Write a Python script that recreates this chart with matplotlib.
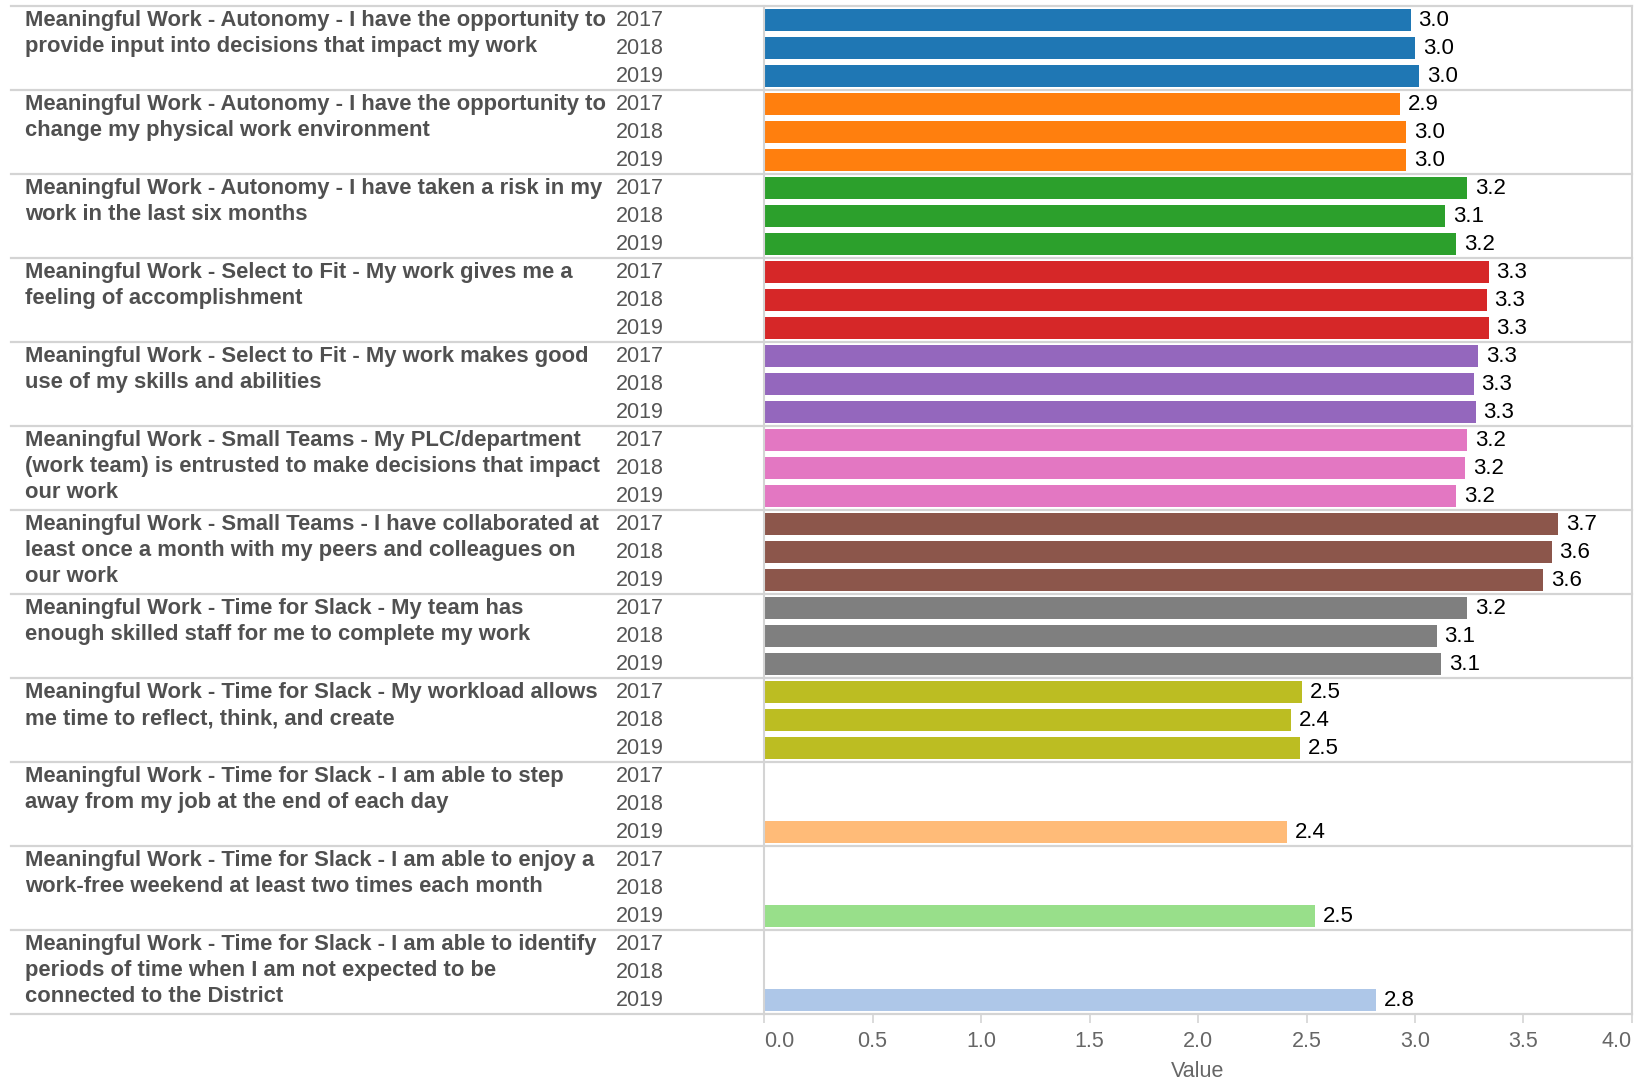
import numpy as np
import matplotlib.pyplot as plt
from matplotlib.transforms import blended_transform_factory
from matplotlib.lines import Line2D
from matplotlib.textpath import TextPath
from matplotlib.font_manager import FontProperties

questions = [
    "Meaningful Work - Autonomy - I have the opportunity to\nprovide input into decisions that impact my work",
    "Meaningful Work - Autonomy - I have the opportunity to\nchange my physical work environment",
    "Meaningful Work - Autonomy - I have taken a risk in my\nwork in the last six months",
    "Meaningful Work - Select to Fit - My work gives me a\nfeeling of accomplishment",
    "Meaningful Work - Select to Fit - My work makes good\nuse of my skills and abilities",
    "Meaningful Work - Small Teams - My PLC/department\n(work team) is entrusted to make decisions that impact\nour work",
    "Meaningful Work - Small Teams - I have collaborated at\nleast once a month with my peers and colleagues on\nour work",
    "Meaningful Work - Time for Slack - My team has\nenough skilled staff for me to complete my work",
    "Meaningful Work - Time for Slack - My workload allows\nme time to reflect, think, and create",
    "Meaningful Work - Time for Slack - I am able to step\naway from my job at the end of each day",
    "Meaningful Work - Time for Slack - I am able to enjoy a\nwork-free weekend at least two times each month",
    "Meaningful Work - Time for Slack - I am able to identify\nperiods of time when I am not expected to be\nconnected to the District",
]
years = ["2017", "2018", "2019"]
nan = np.nan
scores_2017 = [2.98, 2.93, 3.24, 3.34, 3.29, 3.24, 3.66, 3.24, 2.48, nan, nan, nan]
scores_2018 = [3.00, 2.96, 3.14, 3.33, 3.27, 3.23, 3.63, 3.10, 2.43, nan, nan, nan]
scores_2019 = [3.02, 2.96, 3.19, 3.34, 3.28, 3.19, 3.59, 3.12, 2.47, 2.41, 2.54, 2.82]
colors = ["#1f77b4", "#ff7f0e", "#2ca02c", "#d62728", "#9467bd", "#e377c2",
          "#8c564b", "#7f7f7f", "#bcbd22", "#ffbb78", "#98df8a", "#aec7e8"]
xticks = [0.0, 0.5, 1.0, 1.5, 2.0, 2.5, 3.0, 3.5, 4.0]

FONT = 'Liberation Sans'
W, H = 1641, 1081
PX = 1 / 28.0  # one pixel in row units (each bar row is 28 px tall)

# size the bold label font so the first line is as wide as in the reference (~578 px)
bold_fp = FontProperties(family=FONT, weight='bold')
w1 = TextPath((0, 0), questions[0].split('\n')[0], size=10, prop=bold_fp).get_extents().width
q_size = 10 * 578 * 0.72 / w1

fig = plt.figure(figsize=(W / 100, H / 100), dpi=100)
ax = fig.add_axes([764 / W, (H - 1014) / H, (1632 - 764) / W, (1014 - 6) / H])

scores = [scores_2017, scores_2018, scores_2019]
for i in range(len(questions)):
    for j in range(3):
        v = scores[j][i]
        y = 3 * i + j
        if np.isnan(v):
            continue
        ax.barh(y, v, height=0.79, color=colors[i])
        # valeur affichée à droite de la barre
        ax.text(v + 0.036, y + 6 * PX, f"{v:.1f}", va='baseline', ha='left',
                fontsize=16, family=FONT, color='black')

ax.set_xlim(0, 4.0)
ax.set_ylim(35.5, -0.5)
ax.set_yticks([])
ax.set_xticks(xticks, [f"{t:.1f}" for t in xticks])
labs = ax.get_xticklabels()
labs[0].set_ha('left')
labs[-1].set_ha('right')
for lab in labs:
    lab.set_family(FONT)
ax.tick_params(axis='x', length=6.5, width=1.2, color='#d4d4d4', labelsize=15.5,
               labelcolor='#666666', pad=5.5)
ax.set_xlabel('Value', family=FONT, fontsize=15.5, color='#666666', labelpad=7)
for s in ['top', 'bottom']:
    ax.spines[s].set_visible(False)
for s in ['left', 'right']:
    ax.spines[s].set_color('#d4d4d4')
    ax.spines[s].set_linewidth(1.5)

# lignes de séparation entre les questions (sur toute la largeur)
trans = blended_transform_factory(fig.transFigure, ax.transData)
for i in range(len(questions) + 1):
    yy = 3 * i - 0.5
    fig.add_artist(Line2D([11 / W, 1632 / W], [yy, yy], transform=trans,
                          color='#d4d4d4', lw=1.6))

for i, q in enumerate(questions):
    top = 3 * i - 0.5
    for k, line in enumerate(q.split('\n')):
        ax.text(25 / W, top + (20 + 26 * k) * PX, line, transform=trans,
                va='baseline', ha='left', fontsize=q_size, fontweight='bold',
                family=FONT, color='#505050', clip_on=False)
    for j, yr in enumerate(years):
        ax.text(616 / W, 3 * i + j + 6 * PX, yr, transform=trans, va='baseline',
                ha='left', fontsize=15.5, family=FONT, color='#555555', clip_on=False)

fig.savefig('out.png', dpi=100)
